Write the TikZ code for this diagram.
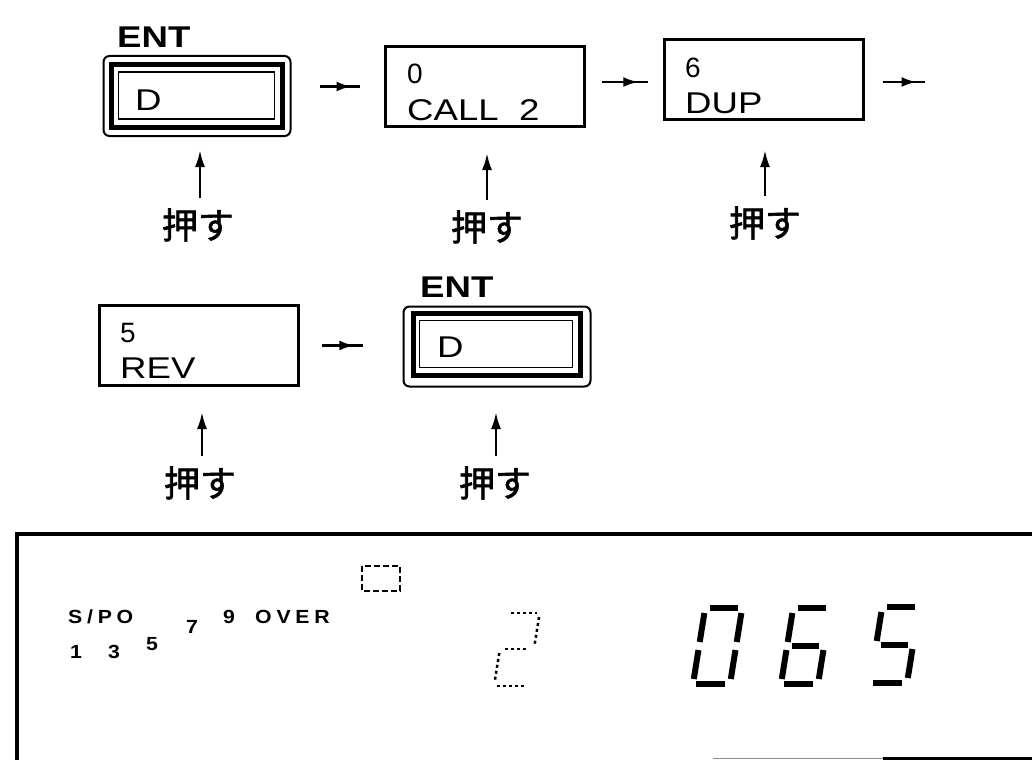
\documentclass[tikz,border=0pt]{standalone}
\usepackage{fontspec}
\setmainfont{Liberation Sans}
\newfontfamily\lcdfont[FakeStretch=1.22]{Liberation Sans}
\newfontfamily\jpfont[FakeBold=1.6]{Noto Sans CJK JP}
\newfontfamily\pnlfont[FakeStretch=1.12,LetterSpace=25]{Liberation Sans}
\usetikzlibrary{arrows.meta,decorations.markings,calc}
\tikzset{
  plainbox/.style={draw, line width=2.5pt, minimum width=199pt, minimum height=80pt, inner sep=0pt, outer sep=0pt},
  entbox/.style={draw, line width=2pt, rounded corners=6pt, minimum width=187pt, minimum height=80pt, inner sep=0pt, outer sep=0pt},
  boxtxt/.style={font=\lcdfont\fontsize{30}{30}\selectfont, anchor=base west, inner sep=0pt},
  numtxt/.style={font=\fontsize{28}{28}\selectfont, anchor=base west, inner sep=0pt},
  enttxt/.style={font=\lcdfont\bfseries\fontsize{30}{30}\selectfont, anchor=base west, inner sep=0pt},
  pushtxt/.style={font=\jpfont\fontsize{36}{36}\selectfont, inner sep=0pt},
  pnltxt/.style={font=\pnlfont\bfseries\fontsize{19}{19}\selectfont, anchor=base west, inner sep=0pt},
  harr/.style={line width=2.5pt, decoration={markings, mark=at position 0.8 with {\arrow{Latex[length=15pt,width=10pt]}}}, postaction={decorate}},
  varr/.style={line width=2.5pt, -{Latex[length=17pt,width=10pt]}},
  segline/.style={line width=6pt, line cap=butt},
  faintseg/.style={line width=2.5pt, dash pattern=on 3pt off 3pt, line cap=butt},
}
\begin{document}
\begin{tikzpicture}[x=1pt,y=-1pt]
\useasboundingbox (0,0) rectangle (1032,760);

% ---- row 1 ----
\node[entbox] (e1) at (197,96) {};
\draw[line width=5pt] ([shift={(8,8)}]e1.north west) rectangle ([shift={(-8,-9)}]e1.south east);
\draw[line width=1.5pt] ([shift={(15,16)}]e1.north west) rectangle ([shift={(-16,-17)}]e1.south east);
\node[enttxt] (ent1) at (117,48) {ENT};
\node[boxtxt] (d1txt) at (135,110) {D};

\node[plainbox] (c1) at (485,86.5) {};
\node[numtxt] (c1a) at (407,83) {0};
\node[boxtxt] (c1b) at (407,120) {CALL\ \ 2};

\node[plainbox] (u1) at (764,79.5) {};
\node[numtxt] (u1a) at (685,77) {6};
\node[boxtxt] (u1b) at (685,113) {DUP};

\coordinate (x1) at (925,82);
\draw[harr] ([xshift=29pt]e1.east |- c1.west) -- ([xshift=-26pt]c1.west);
\draw[harr] ([xshift=17pt]c1.east |- x1) -- ([xshift=-17pt]u1.west |- x1);
\draw[harr] ([xshift=19pt]u1.east |- x1) -- (x1);

\node[pushtxt] (p1) at (198,225) {押す};
\node[pushtxt] (p2) at (487,227) {押す};
\node[pushtxt] (p3) at (765,223) {押す};
\coordinate (a1) at (200,150);
\coordinate (a2) at (487,153);
\coordinate (a3) at (765,150);
\draw[varr, shorten <=10pt] (p1.north -| a1) -- (a1);
\draw[varr, shorten <=10pt] (p2.north -| a2) -- (a2);
\draw[varr, shorten <=10pt] (p3.north -| a3) -- (a3);

% ---- row 2 ----
\node[plainbox] (r1) at (199,345.5) {};
\node[numtxt] (r1a) at (120,342) {5};
\node[boxtxt] (r1b) at (120,378) {REV};

\node[entbox] (e2) at (497,346.5) {};
\draw[line width=5pt] ([shift={(10,7)}]e2.north west) rectangle ([shift={(-10,-11)}]e2.south east);
\draw[line width=1.5pt] ([shift={(16,14)}]e2.north west) rectangle ([shift={(-18,-19)}]e2.south east);
\node[enttxt] (ent2) at (420,297) {ENT};
\node[boxtxt] (d2txt) at (437,357) {D};

\draw[harr] ([xshift=23pt]r1.east) -- ([xshift=-41pt]e2.west |- r1.east);

\node[pushtxt] (p4) at (200,483) {押す};
\node[pushtxt] (p5) at (495,483) {押す};
\coordinate (a4) at (202,412);
\coordinate (a5) at (496,412);
\draw[varr, shorten <=10pt] (p4.north -| a4) -- (a4);
\draw[varr, shorten <=10pt] (p5.north -| a5) -- (a5);

% ---- display panel ----
\draw[line width=4pt, line join=miter] (1032,534) -- (17,534) -- (17,760);
\draw[line width=1pt, black!45] (713,758) -- (883,758);
\draw[line width=3pt] (883,758) -- (1032,758);
\draw[line width=1.5pt, dash pattern=on 6pt off 3pt] (362,566) rectangle (400,591);

\node[pnltxt] (spo) at (68,623) {S/PO};
\node[pnltxt] (over) at (255,623) {OVER};
\node[pnltxt] (n9) at (223,623) {9};
\node[pnltxt] (n7) at (186,633) {7};
\node[pnltxt] (n5) at (146,650) {5};
\node[pnltxt] (n3) at (108,658) {3};
\node[pnltxt] (n1) at (70,658) {1};

% faint digit 2
\begin{scope}[shift={(494,686)}, xslant=0.16]
  \draw[faintseg] (5,-73) -- (31,-73);
  \draw[faintseg] (34,-69) -- (34,-41);
  \draw[faintseg] (5,-37) -- (29,-37);
  \draw[faintseg] (0,-33) -- (0,-5);
  \draw[faintseg] (3,0) -- (30,0);
\end{scope}
% digit 0
\begin{scope}[shift={(693,684)}, xslant=0.16]
  \draw[segline] (5,-76) -- (33,-76);
  \draw[segline] (37,-71) -- (37,-42);
  \draw[segline] (37,-34) -- (37,-5);
  \draw[segline] (3,0) -- (32,0);
  \draw[segline] (0,-34) -- (0,-5);
  \draw[segline] (0,-71) -- (0,-42);
\end{scope}
% digit 6
\begin{scope}[shift={(781,684)}, xslant=0.16]
  \draw[segline] (5,-76) -- (33,-76);
  \draw[segline] (37,-34) -- (37,-5);
  \draw[segline] (3,0) -- (32,0);
  \draw[segline] (0,-34) -- (0,-5);
  \draw[segline] (0,-71) -- (0,-42);
  \draw[segline] (5,-38) -- (32,-38);
\end{scope}
% digit 5
\begin{scope}[shift={(870,683)}, xslant=0.16]
  \draw[segline] (5,-76) -- (33,-76);
  \draw[segline] (0,-71) -- (0,-42);
  \draw[segline] (5,-38) -- (32,-38);
  \draw[segline] (37,-34) -- (37,-5);
  \draw[segline] (3,0) -- (32,0);
\end{scope}
\end{tikzpicture}
\end{document}
